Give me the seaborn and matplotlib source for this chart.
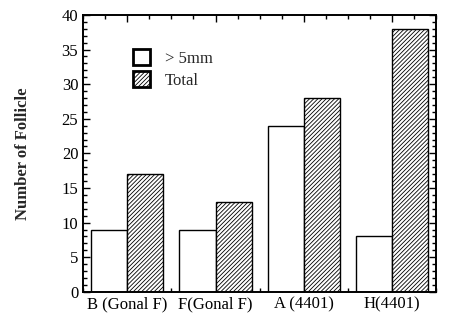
import matplotlib
matplotlib.use("Agg")
import matplotlib.pyplot as plt
from matplotlib.ticker import MultipleLocator
from matplotlib.patches import Patch
import seaborn as sns
import pandas as pd

groups = ["B (Gonal F)", "F(Gonal F)", "A (4401)", "H(4401)"]
over_5mm = [9, 9, 24, 8]
total = [17, 13, 28, 38]
series = ["> 5mm", "Total"]

df = pd.DataFrame({
    "group": groups * 2,
    "count": over_5mm + total,
    "series": [series[0]] * len(groups) + [series[1]] * len(groups),
})

sns.set_style("ticks")
plt.rcParams["font.family"] = ["Liberation Serif", "DejaVu Serif"]
plt.rcParams["hatch.linewidth"] = 0.6
plt.rcParams["hatch.color"] = "black"

fig, ax = plt.subplots(figsize=(4.52, 3.25), dpi=100)
fig.subplots_adjust(left=0.184, right=0.965, top=0.954, bottom=0.102)

sns.barplot(data=df, x="group", y="count", hue="series", order=groups,
            hue_order=series, palette=["white", "white"], width=0.82,
            edgecolor="black", linewidth=1.0, errorbar=None, ax=ax,
            legend=False)

# hatch the "Total" bars
n = len(groups)
for i, patch in enumerate(ax.patches[:2 * n]):
    if i >= n:
        patch.set_hatch("////////")

ax.set_xlim(-0.5, 3.5)
ax.set_ylim(0, 40)
ax.yaxis.set_major_locator(MultipleLocator(5))
ax.yaxis.set_minor_locator(MultipleLocator(1))
ax.xaxis.set_minor_locator(MultipleLocator(0.25))
ax.tick_params(which="both", direction="in", top=True, right=True,
               labelsize=12, width=1.0, colors="black")
ax.tick_params(which="major", length=5)
ax.tick_params(which="minor", length=3)
for s in ax.spines.values():
    s.set_linewidth(1.4)
    s.set_color("black")

ax.set_xlabel("")
ax.set_ylabel("Number of Follicle", fontsize=12, fontweight="bold", labelpad=22)

handles = [Patch(facecolor="white", edgecolor="black", linewidth=2.0),
           Patch(facecolor="white", edgecolor="black", linewidth=2.0, hatch="////////")]
ax.legend(handles, series, loc="upper left", bbox_to_anchor=(0.10, 0.93),
          frameon=False, handlelength=1.0, handleheight=1.1, handletextpad=0.9,
          labelspacing=0.25, fontsize=12)

fig.savefig("out.png", dpi=100)
